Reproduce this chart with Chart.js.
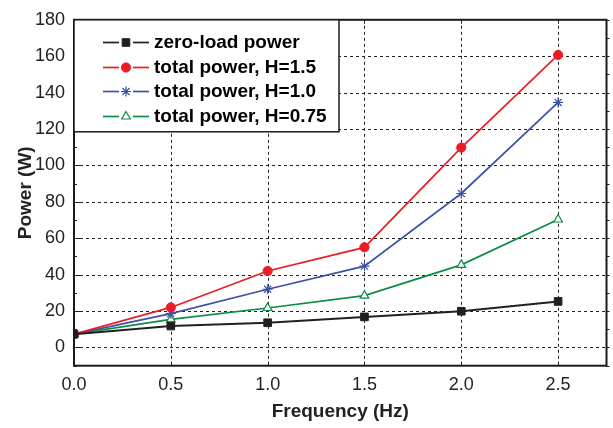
<!DOCTYPE html>
<html>
<head>
<meta charset="utf-8">
<script src="https://cdn.jsdelivr.net/npm/chart.js@4.4.0/dist/chart.umd.min.js"></script>
<style>
html,body{margin:0;padding:0;background:#fff;}
#wrap{width:613px;height:428px;position:relative;}
</style>
</head>
<body>
<div id="wrap"><canvas id="c" width="613" height="428"></canvas></div>
<script>
const frequencies = [0.0, 0.5, 1.0, 1.5, 2.0, 2.5];
const zeroLoad = [7.3, 11.8, 13.6, 16.8, 19.9, 25.3];
const totalH15 = [7.3, 22.0, 42.0, 55.0, 109.8, 160.7];
const totalH10 = [7.3, 18.6, 32.0, 44.7, 84.6, 134.6];
const totalH075 = [7.3, 15.4, 21.7, 28.5, 45.4, 70.3];
const seriesLabels = ['zero-load power', 'total power, H=1.5', 'total power, H=1.0', 'total power, H=0.75'];
const xTicks = [0.0, 0.5, 1.0, 1.5, 2.0, 2.5];
const yTicks = [0, 20, 40, 60, 80, 100, 120, 140, 160, 180];
const yMinor = [-10, 10, 30, 50, 70, 90, 110, 130, 150, 170];

const FONT = "'Liberation Sans', Arial, sans-serif";

function pts(arr){ return frequencies.map((f,i)=>({x:f, y:arr[i]})); }

const datasets = [
  {label: seriesLabels[0], data: pts(zeroLoad), borderColor:'#231f20', backgroundColor:'#231f20', borderWidth:2, pointStyle:'rect', pointRadius:5.4, pointBorderWidth:1},
  {label: seriesLabels[1], data: pts(totalH15), borderColor:'#ed1c24', backgroundColor:'#ed1c24', borderWidth:1.7, pointStyle:'circle', pointRadius:4.6, pointBorderWidth:1},
  {label: seriesLabels[2], data: pts(totalH10), borderColor:'#3a53a4', backgroundColor:'#3a53a4', borderWidth:1.7, pointStyle:'star', pointRadius:5, pointBorderWidth:1.2},
  {label: seriesLabels[3], data: pts(totalH075), borderColor:'#0d8c45', backgroundColor:'#ffffff', borderWidth:1.7, pointStyle:'triangle', pointRadius:5, pointBorderWidth:1.2}
];

const framePlugin = {
  id: 'frame',
  beforeDatasetsDraw(chart){
    const {ctx, chartArea:a, scales:{x, y}} = chart;
    ctx.save();
    ctx.strokeStyle = '#222';
    ctx.lineWidth = 1;
    ctx.setLineDash([3,3]);
    xTicks.forEach(v=>{ if(v===0) return; const px = Math.round(x.getPixelForValue(v))+0.5;
      ctx.beginPath(); ctx.moveTo(px, a.top); ctx.lineTo(px, a.bottom); ctx.stroke(); });
    yTicks.forEach(v=>{ if(v===180) return; const py = Math.round(y.getPixelForValue(v))+0.5;
      ctx.beginPath(); ctx.moveTo(a.left, py); ctx.lineTo(a.right, py); ctx.stroke(); });
    ctx.restore();
  },
  afterDatasetsDraw(chart){
    const {ctx, chartArea:a, scales:{x, y}} = chart;
    ctx.save();
    ctx.strokeStyle = '#222';
    ctx.setLineDash([]);
    ctx.lineWidth = 1;
    yTicks.forEach(v=>{ const py = Math.round(y.getPixelForValue(v))+0.5;
      ctx.beginPath(); ctx.moveTo(a.left, py); ctx.lineTo(a.left+6, py); ctx.stroke();
      ctx.beginPath(); ctx.moveTo(a.right, py); ctx.lineTo(a.right+3, py); ctx.stroke(); });
    yMinor.forEach(v=>{ const py = Math.round(y.getPixelForValue(v))+0.5;
      ctx.beginPath(); ctx.moveTo(a.left, py); ctx.lineTo(a.left+3, py); ctx.stroke();
      ctx.beginPath(); ctx.moveTo(a.right, py); ctx.lineTo(a.right+3, py); ctx.stroke(); });
    xTicks.forEach(v=>{ const px = Math.round(x.getPixelForValue(v))+0.5;
      ctx.beginPath(); ctx.moveTo(px, a.bottom); ctx.lineTo(px, a.bottom-4); ctx.stroke();
      ctx.beginPath(); ctx.moveTo(px, a.top); ctx.lineTo(px, a.top+4); ctx.stroke(); });
    ctx.lineWidth = 2;
    ctx.strokeStyle = '#1a1a1a';
    ctx.strokeRect(a.left, a.top, a.right - a.left, a.bottom - a.top);
    ctx.restore();
  },
  afterDraw(chart){
    const {ctx, chartArea:a} = chart;
    ctx.save();
    const bx = a.left, by = a.top, bw = 265, bh = 112;
    ctx.fillStyle = '#fff';
    ctx.fillRect(bx, by, bw, bh);
    ctx.strokeStyle = '#1a1a1a';
    ctx.lineWidth = 1.5;
    ctx.strokeRect(bx, by, bw, bh);
    const rows = [42, 67, 91, 116];
    chart.data.datasets.forEach((ds, i)=>{
      const cy = rows[i];
      ctx.strokeStyle = ds.borderColor;
      ctx.lineWidth = 1.7;
      ctx.beginPath(); ctx.moveTo(103, cy+0.5); ctx.lineTo(119, cy+0.5); ctx.stroke();
      ctx.beginPath(); ctx.moveTo(133, cy+0.5); ctx.lineTo(149, cy+0.5); ctx.stroke();
      ctx.lineWidth = ds.pointBorderWidth;
      ctx.fillStyle = ds.backgroundColor;
      Chart.helpers.drawPoint(ctx, {pointStyle: ds.pointStyle, radius: ds.pointRadius, borderWidth: ds.pointBorderWidth, rotation:0}, 126, cy+0.5);
      ctx.fillStyle = '#000';
      ctx.font = "bold 19px " + FONT;
      ctx.textAlign = 'left';
      ctx.textBaseline = 'middle';
      ctx.fillText(ds.label, 154, cy+1);
    });
    ctx.restore();
  }
};

new Chart(document.getElementById('c'), {
  type: 'line',
  data: { datasets },
  options: {
    responsive: false,
    animation: false,
    devicePixelRatio: 1,
    layout: { padding: { left: 0, top: 15, right: 6.5, bottom: 0 } },
    plugins: { legend: { display: false }, tooltip: { enabled: false } },
    elements: { line: { tension: 0 } },
    scales: {
      x: {
        type: 'linear', min: 0, max: 2.75,
        afterBuildTicks(s){ s.ticks = xTicks.map(v=>({value:v})); },
        afterFit(s){ s.height = 62.3; },
        grid: { display: false, drawTicks: false },
        border: { display: false },
        ticks: { color:'#222', font:{ family: FONT, size: 18 }, padding: 9, maxRotation:0, autoSkip:false,
          callback: v => Number(v).toFixed(1) },
        title: { display: true, text: 'Frequency (Hz)', color:'#222', font:{ family: FONT, size: 19, weight:'bold' }, padding:{top:0, bottom:5} }
      },
      y: {
        type: 'linear', min: -10, max: 180,
        afterBuildTicks(s){ s.ticks = yTicks.map(v=>({value:v})); },
        afterFit(s){ s.width = 74; },
        grid: { display: false, drawTicks: false },
        border: { display: false },
        ticks: { color:'#222', font:{ family: FONT, size: 18 }, padding: 9, autoSkip:false },
        title: { display: true, text: 'Power (W)', color:'#222', font:{ family: FONT, size: 19, weight:'bold' }, padding:{top:14, bottom:0} }
      }
    }
  },
  plugins: [framePlugin]
});
</script>
</body>
</html>
